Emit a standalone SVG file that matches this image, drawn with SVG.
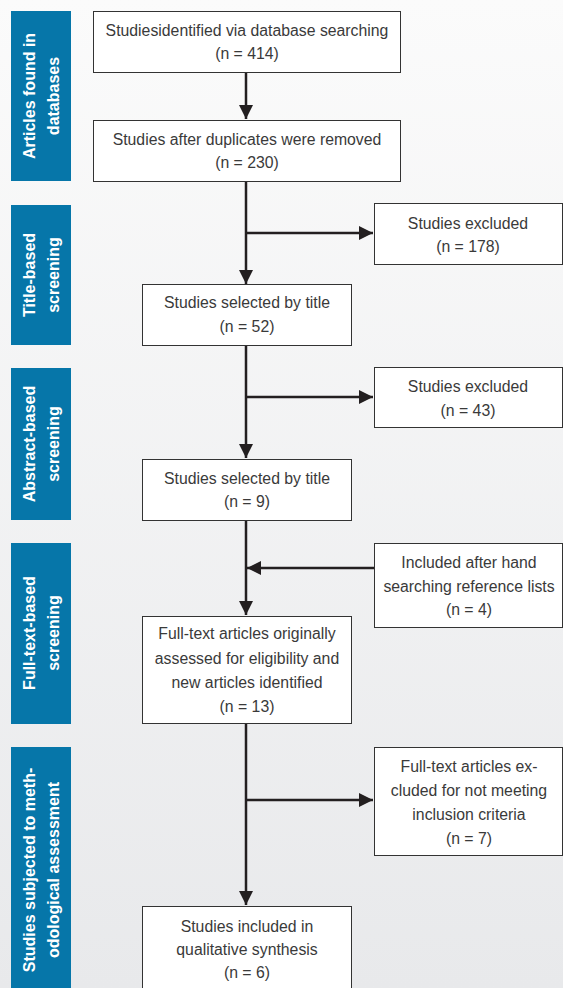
<svg xmlns="http://www.w3.org/2000/svg" width="563" height="988" viewBox="0 0 563 988">
<defs>
<linearGradient id="bg" x1="0" y1="0" x2="0" y2="1">
<stop offset="0" stop-color="#fbfbfb"/>
<stop offset="1" stop-color="#e8e9eb"/>
</linearGradient>
<marker id="ah" viewBox="0 0 10 10" refX="10" refY="5" markerWidth="5.6" markerHeight="5.6" markerUnits="strokeWidth" orient="auto">
<path d="M0,0 L10,5 L0,10 z" fill="#231f20"/>
</marker>
</defs>
<style>
.side{fill:#0676a9}
.st{fill:#fff;font-family:"Liberation Sans",Arial,sans-serif;font-size:16px;font-weight:bold;text-anchor:middle}
.box{fill:#fff;stroke:#333;stroke-width:1}
.t{fill:#3a3a3a;font-family:"Liberation Sans",Arial,sans-serif;font-size:15.8px;text-anchor:middle}
.c{fill:none;stroke:#231f20;stroke-width:2.5}
</style>
<rect width="563" height="988" fill="url(#bg)"/>

<g id="side1"><rect class="side" x="11" y="11" width="60" height="170"/>
<text class="st" transform="translate(41,96) rotate(-90)"><tspan x="0" y="-6">Articles found in</tspan><tspan x="0" y="18">databases</tspan></text></g>
<g id="side2"><rect class="side" x="11" y="205" width="60" height="140"/>
<text class="st" transform="translate(41,275) rotate(-90)"><tspan x="0" y="-6">Title-based</tspan><tspan x="0" y="18">screening</tspan></text></g>
<g id="side3"><rect class="side" x="11" y="368" width="60" height="152"/>
<text class="st" transform="translate(41,444) rotate(-90)"><tspan x="0" y="-6">Abstract-based</tspan><tspan x="0" y="18">screening</tspan></text></g>
<g id="side4"><rect class="side" x="11" y="543" width="60" height="181"/>
<text class="st" transform="translate(41,633) rotate(-90)"><tspan x="0" y="-6">Full-text-based</tspan><tspan x="0" y="18">screening</tspan></text></g>
<g id="side5"><rect class="side" x="11" y="747" width="60" height="241"/>
<text class="st" transform="translate(41,870) rotate(-90)"><tspan x="0" y="-6">Studies subjected to meth-</tspan><tspan x="0" y="18">odological assessment</tspan></text></g>

<g id="connectors">
<line class="c" x1="246" y1="72" x2="246" y2="119" marker-end="url(#ah)"/>
<line class="c" x1="246" y1="181" x2="246" y2="284" marker-end="url(#ah)"/>
<line class="c" x1="246" y1="233" x2="373" y2="233" marker-end="url(#ah)"/>
<line class="c" x1="246" y1="346" x2="246" y2="458" marker-end="url(#ah)"/>
<line class="c" x1="246" y1="397" x2="373" y2="397" marker-end="url(#ah)"/>
<line class="c" x1="246" y1="520" x2="246" y2="615" marker-end="url(#ah)"/>
<line class="c" x1="374" y1="568" x2="247" y2="568" marker-end="url(#ah)"/>
<line class="c" x1="246" y1="723" x2="246" y2="905" marker-end="url(#ah)"/>
<line class="c" x1="246" y1="800" x2="373" y2="800" marker-end="url(#ah)"/>
</g>

<g id="n1"><rect class="box" x="93.5" y="11.5" width="307" height="61"/>
<text class="t" x="247" y="36">Studiesidentified via database searching</text>
<text class="t" x="247" y="59">(n = 414)</text></g>
<g id="n2"><rect class="box" x="93.5" y="120.5" width="307" height="61"/>
<text class="t" x="247" y="145">Studies after duplicates were removed</text>
<text class="t" x="247" y="168">(n = 230)</text></g>
<g id="n3"><rect class="box" x="374.5" y="203.5" width="188" height="61"/>
<text class="t" x="468" y="229">Studies excluded</text>
<text class="t" x="468" y="252">(n = 178)</text></g>
<g id="n4"><rect class="box" x="142.5" y="284.5" width="209" height="61"/>
<text class="t" x="247" y="308">Studies selected by title</text>
<text class="t" x="247" y="332">(n = 52)</text></g>
<g id="n5"><rect class="box" x="374.5" y="367.5" width="188" height="60"/>
<text class="t" x="468" y="392">Studies excluded</text>
<text class="t" x="468" y="416">(n = 43)</text></g>
<g id="n6"><rect class="box" x="142.5" y="459.5" width="209" height="61"/>
<text class="t" x="247" y="484">Studies selected by title</text>
<text class="t" x="247" y="507">(n = 9)</text></g>
<g id="n7"><rect class="box" x="374.5" y="543.5" width="188" height="84"/>
<text class="t" x="469" y="568">Included after hand</text>
<text class="t" x="469" y="592">searching reference lists</text>
<text class="t" x="469" y="615">(n = 4)</text></g>
<g id="n8"><rect class="box" x="142.5" y="616.5" width="209" height="107"/>
<text class="t" x="247" y="639">Full-text articles originally</text>
<text class="t" x="247" y="664">assessed for eligibility and</text>
<text class="t" x="247" y="688">new articles identified</text>
<text class="t" x="247" y="712">(n = 13)</text></g>
<g id="n9"><rect class="box" x="374.5" y="747.5" width="188" height="108"/>
<text class="t" x="469" y="772">Full-text articles ex-</text>
<text class="t" x="469" y="796">cluded for not meeting</text>
<text class="t" x="469" y="820">inclusion criteria</text>
<text class="t" x="469" y="844">(n = 7)</text></g>
<g id="n10"><rect class="box" x="142.5" y="906.5" width="209" height="90"/>
<text class="t" x="247" y="932">Studies included in</text>
<text class="t" x="247" y="955">qualitative synthesis</text>
<text class="t" x="247" y="978">(n = 6)</text></g>
</svg>
